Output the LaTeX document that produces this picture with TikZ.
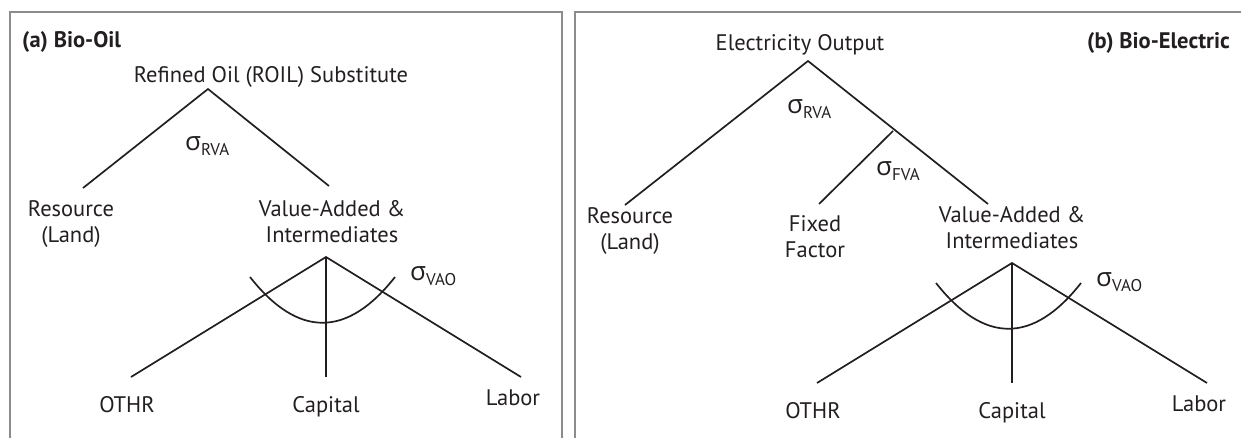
\documentclass[tikz,border=0pt]{standalone}
\usepackage{fontspec}
\setmainfont{PT Sans}
\newfontfamily\sigfont{Open Sans}
\definecolor{framegray}{RGB}{140,140,140}
\definecolor{ink}{RGB}{35,31,32}
\newcommand{\sgm}[1]{{\sigfont\fontsize{26}{26}\selectfont σ}\raisebox{-5pt}{\fontsize{17}{17}\selectfont #1}}
\tikzset{
  frameline/.style={draw=framegray, line width=1.4pt},
  edge/.style={draw=ink, line width=1.7pt},
  lbl/.style={inner sep=0pt, anchor=base, align=center, text=ink, font=\fontsize{22.5}{26}\selectfont},
  ttl/.style={inner sep=0pt, anchor=base west, text=ink, font=\fontsize{22.5}{26}\selectfont\bfseries},
  sig/.style={inner sep=0pt, anchor=base west, text=ink},
}
\begin{document}
\begin{tikzpicture}[x=1pt,y=-1pt]
\useasboundingbox (0,0) rectangle (1241,437);
\clip (0,0) rectangle (1241,437);
% frames
\draw[frameline] (10,445) -- (10,12) -- (562,12) -- (562,445);
\draw[frameline] (575,445) -- (575,12) -- (1250,12);

% ---------- (a) Bio-Oil ----------
\node[ttl] (titleA) at (22,47) {(a) Bio-Oil};
\node[lbl] (rootA) at (271,82) {Refined Oil (ROIL) Substitute};
\coordinate (aTop) at (208,89);
\coordinate (aRes) at (83,188);
\coordinate (aVA) at (329,186);
\draw[edge] (aRes) -- (aTop) -- (aVA);
\node[sig] (sigA1) at (185,150) {\sgm{RVA}};
\node[lbl] (resA) at (71,242) {Resource\\(Land)};
\node[lbl] (vaA) at (332,242) {Value-Added \&\\Intermediates};
\coordinate (aBot) at (326,257);
\coordinate (aOth) at (131,377);
\coordinate (aCap) at (326,377);
\coordinate (aLab) at (521,377);
\draw[edge] (aOth) -- (aBot) -- (aLab);
\draw[edge] (aBot) -- (aCap);
\coordinate (aArcL) at (250,277);
\coordinate (aArcR) at (395,277);
\draw[edge] (aArcL) .. controls (298,338) and (347,338) .. (aArcR);
\node[sig] (sigA2) at (410,280) {\sgm{VAO}};
\node[lbl] (othA) at (127,412) {OTHR};
\node[lbl] (capA) at (326,412) {Capital};
\node[lbl] (labA) at (513,405) {Labor};

% ---------- (b) Bio-Electric ----------
\node[ttl, anchor=base east] (titleB) at (1230,48) {(b) Bio-Electric};
\node[lbl] (rootB) at (800,50) {Electricity Output};
\coordinate (bTop) at (808,61);
\coordinate (bRes) at (625,205);
\coordinate (bVA) at (988,204);
\coordinate (bBr) at (893,131);
\coordinate (bFix) at (819,204);
\draw[edge] (bRes) -- (bTop) -- (bVA);
\draw[edge] (bBr) -- (bFix);
\node[sig] (sigB1) at (787,113) {\sgm{RVA}};
\node[sig] (sigB2) at (876,175) {\sgm{FVA}};
\node[lbl] (resB) at (630,249) {Resource\\(Land)};
\node[lbl] (fixB) at (815,257) {Fixed\\Factor};
\node[lbl] (vaB) at (1012,248) {Value-Added \&\\Intermediates};
\coordinate (bBot) at (1012,263);
\coordinate (bOth) at (817,383);
\coordinate (bCap) at (1012,383);
\coordinate (bLab) at (1207,383);
\draw[edge] (bOth) -- (bBot) -- (bLab);
\draw[edge] (bBot) -- (bCap);
\coordinate (bArcL) at (936,283);
\coordinate (bArcR) at (1081,283);
\draw[edge] (bArcL) .. controls (984,344) and (1033,344) .. (bArcR);
\node[sig] (sigB3) at (1096,286) {\sgm{VAO}};
\node[lbl] (othB) at (813,418) {OTHR};
\node[lbl] (capB) at (1012,418) {Capital};
\node[lbl] (labB) at (1199,411) {Labor};
\end{tikzpicture}
\end{document}
